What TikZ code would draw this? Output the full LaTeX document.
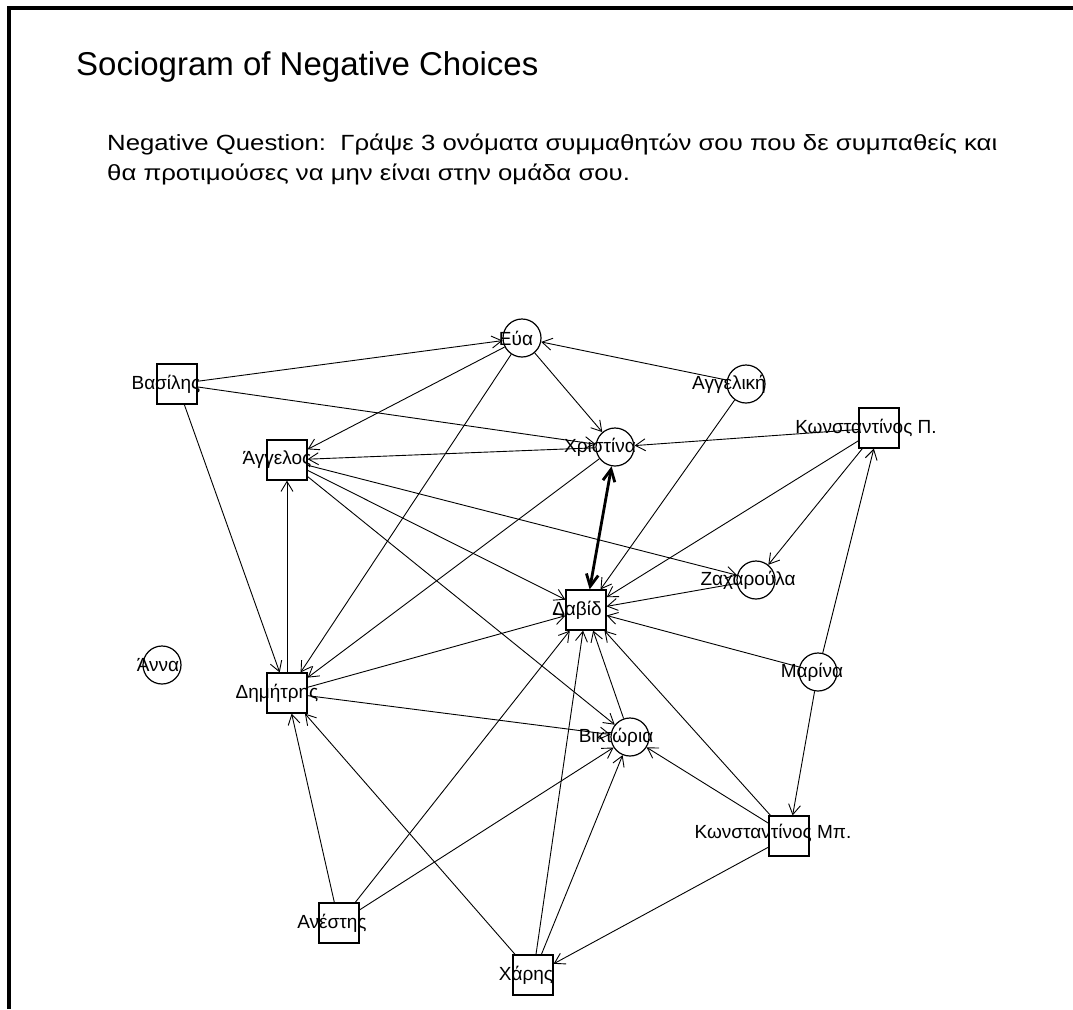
\documentclass[tikz,border=0pt]{standalone}
\usepackage{fontspec}
\setmainfont{Liberation Sans}
\newfontfamily\questionfont[FakeStretch=1.17]{Liberation Sans}
\usetikzlibrary{arrows.meta}
\begin{document}
\begin{tikzpicture}[x=1pt,y=-1pt,
  person/.style={draw, line width=1.2pt, inner sep=0pt},
  boy/.style={person, rectangle, minimum size=40pt},
  girl/.style={person, circle, minimum size=38pt},
  lbl/.style={font=\fontsize{19}{19}\selectfont, inner sep=0pt},
  choice/.style={line width=0.9pt, -{Straight Barb[length=10pt,width=12pt,line width=0.9pt]}},
  mutual/.style={line width=2.8pt, {Straight Barb[length=12pt,width=12pt]}-{Straight Barb[length=12pt,width=12pt]}}
]
\useasboundingbox (0,0) rectangle (1073,1009);
% frame edges
\draw[line width=4pt] (9,1009) -- (9,8) -- (1073,8);

% headings
\node[anchor=base west, inner sep=0pt, font=\fontsize{33}{33}\selectfont] (title) at (76,75) {Sociogram of Negative Choices};
\node[anchor=base west, inner sep=0pt, font=\questionfont\fontsize{22}{22}\selectfont] (q1) at (107,150) {Negative Question:\ \ Γράψε 3 ονόματα συμμαθητών σου που δε συμπαθείς και};
\node[anchor=base west, inner sep=0pt, font=\questionfont\fontsize{22}{22}\selectfont] (q2) at (107,180) {θα προτιμούσες να μην είναι στην ομάδα σου.};

% pupils
\node[girl] (E)   at (522,338) {};
\node[girl] (Ag)  at (746,384) {};
\node[boy]  (V)   at (177,384) {};
\node[boy]  (A)   at (287,460) {};
\node[girl] (X)   at (615,447) {};
\node[boy]  (KP)  at (879,428) {};
\node[girl] (Z)   at (756,580) {};
\node[boy]  (D)   at (586,610) {};
\node[girl] (M)   at (818,672) {};
\node[girl] (An)  at (162,665) {};
\node[boy]  (Dm)  at (287,693) {};
\node[girl] (Vi)  at (630,737) {};
\node[boy]  (KM)  at (789,836) {};
\node[boy]  (Ans) at (339,923) {};
\node[boy]  (Ch)  at (533,975) {};

% negative choices
\draw[choice] (V) -- (E);
\draw[choice] (V) -- (X);
\draw[choice] (V) -- (Dm);
\draw[choice] (A) -- (Z);
\draw[choice] (A) -- (D);
\draw[choice] (A) -- (Vi);
\draw[choice] (E) -- (A);
\draw[choice] (E) -- (Dm);
\draw[choice] (E) -- (X);
\draw[choice] (Ag) -- (E);
\draw[choice] (Ag) -- (D);
\draw[choice] (KP) -- (X);
\draw[choice] (KP) -- (D);
\draw[choice] (KP) -- (Z);
\draw[choice] (X) -- (A);
\draw[choice] (X) -- (Dm);
\draw[mutual] (X) -- (D);
\draw[choice] (Z) -- (D);
\draw[choice] (M) -- (D);
\draw[choice] (M) -- (KP);
\draw[choice] (M) -- (KM);
\draw[choice] (Dm) -- (A);
\draw[choice] (Dm) -- (D);
\draw[choice] (Dm) -- (Vi);
\draw[choice] (Ans) -- (Dm);
\draw[choice] (Ans) -- (D);
\draw[choice] (Ans) -- (Vi);
\draw[choice] (Ch) -- (Dm);
\draw[choice] (Ch) -- (D);
\draw[choice] (Ch) -- (Vi);
\draw[choice] (KM) -- (D);
\draw[choice] (KM) -- (Vi);
\draw[choice] (KM) -- (Ch);
\draw[choice] (Vi) -- (D);

% names
\node[lbl] (lV)   at (166,384) {Βασίλης};
\node[lbl] (lA)   at (277,460) {Άγγελος};
\node[lbl] (lE)   at (516,338) {Εύα};
\node[lbl] (lAg)  at (729,384) {Αγγελική};
\node[lbl] (lX)   at (600,447) {Χριστίνα};
\node[lbl] (lKP)  at (866,428) {Κωνσταντίνος Π.};
\node[lbl] (lZ)   at (748,580) {Ζαχαρούλα};
\node[lbl] (lD)   at (577,610) {Δαβίδ};
\node[lbl] (lAn)  at (158,665) {Άννα};
\node[lbl] (lDm)  at (277,693) {Δημήτρης};
\node[lbl] (lM)   at (812,672) {Μαρίνα};
\node[lbl] (lVi)  at (616,737) {Βικτώρια};
\node[lbl] (lKM)  at (773,833) {Κωνσταντίνος Μπ.};
\node[lbl] (lAns) at (332,923) {Ανέστης};
\node[lbl] (lCh)  at (526,975) {Χάρης};
\end{tikzpicture}
\end{document}
